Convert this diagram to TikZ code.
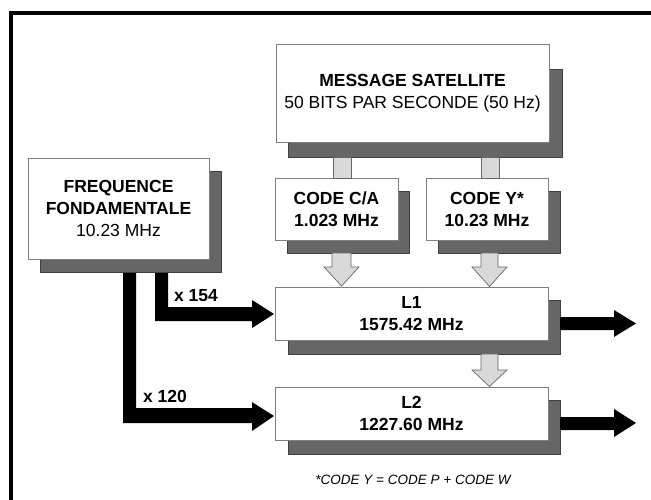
\documentclass[tikz,border=0pt]{standalone}
\usepackage{fontspec}
\setmainfont{Liberation Sans}
\definecolor{shadowgray}{HTML}{666666}
\definecolor{lightfill}{HTML}{D9D9D9}
\definecolor{edgegray}{HTML}{7F7F7F}
\newcommand\mainfs{\fontsize{17.5}{22}\selectfont}
\begin{document}
\begin{tikzpicture}[x=1pt,y=-1pt,
  box/.style={draw=edgegray, line width=0.8pt, fill=white, inner sep=0pt, outer sep=0pt, align=center, font=\mainfs},
  shadowbox/.style={fill=shadowgray, draw=black!75, line width=0.6pt},
  blkarrow/.style={fill=black},
  grayarrow/.style={fill=lightfill, draw=black!60, line width=0.7pt, line join=miter},
  lbl/.style={font=\bfseries\mainfs, inner sep=0pt},
  note/.style={font=\itshape\fontsize{13.5}{16}\selectfont, inner sep=0pt}]
\useasboundingbox (0,0) rectangle (651,500);
\clip (0,0) rectangle (651,500);
% frame (only left and top edges visible)
\draw[line width=4pt] (11,520) -- (11,13) -- (680,13);

% black block arrows from the fundamental frequency
\fill[blkarrow] (155,265) -- (168,265) -- (168,307) -- (252,307) -- (252,300) -- (274,314) -- (252,328) -- (252,321) -- (155,321) -- cycle;
\fill[blkarrow] (123,265) -- (136,265) -- (136,408) -- (252,408) -- (252,402) -- (274,416) -- (252,431) -- (252,423) -- (123,423) -- cycle;

% shadows
\draw[shadowbox] (40,171) rectangle (221,272);
\draw[shadowbox] (288,69) rectangle (562,157);
\draw[shadowbox] (287,191) rectangle (409,253);
\draw[shadowbox] (438,191) rectangle (560,253);
\draw[shadowbox] (288,300) rectangle (560,354);
\draw[shadowbox] (288,400) rectangle (560,454);

% boxes
\node[box, minimum width=181, minimum height=101] (freq) at (118.5,208.5)
  {\textbf{FREQUENCE}\\\textbf{FONDAMENTALE}\\10.23 MHz};
\node[box, minimum width=273, minimum height=98] (msg) at (412.5,93)
  {\textbf{MESSAGE SATELLITE}\\50 BITS PAR SECONDE (50 Hz)};
\node[box, minimum width=123, minimum height=62] (ca) at (336.5,209)
  {\textbf{CODE C/A}\\\textbf{1.023 MHz}};
\node[box, minimum width=122, minimum height=62] (cy) at (487,209)
  {\textbf{CODE Y*}\\\textbf{10.23 MHz}};
\node[box, minimum width=273, minimum height=53] (l1) at (411.5,313.5)
  {\textbf{L1}\\\textbf{1575.42 MHz}};
\node[box, minimum width=273, minimum height=53] (l2) at (411.5,413.5)
  {\textbf{L2}\\\textbf{1227.60 MHz}};

% light gray connectors
\draw[grayarrow] (333,157) rectangle (351,178);
\draw[grayarrow] (481,157) rectangle (499,178);
\draw[grayarrow] (332,253) -- (351,253) -- (351,267) -- (359,267) -- (341.5,286) -- (324,267) -- (332,267) -- cycle;
\draw[grayarrow] (481,253) -- (498,253) -- (498,267) -- (507,267) -- (489.5,286.5) -- (472,267) -- (481,267) -- cycle;
\draw[grayarrow] (481,354) -- (498,354) -- (498,370) -- (507,370) -- (489.5,386.5) -- (472,370) -- (481,370) -- cycle;

% output arrows
\fill[blkarrow] (560,317) -- (614,317) -- (614,310) -- (636,323.5) -- (614,337) -- (614,330) -- (560,330) -- cycle;
\fill[blkarrow] (560,417) -- (614,417) -- (614,409) -- (636,423) -- (614,437) -- (614,430) -- (560,430) -- cycle;

% labels
\node[lbl] (m154) at (196,296) {x 154};
\node[lbl] (m120) at (165,396) {x 120};
\node[note] (fn) at (413,480) {*CODE Y = CODE P + CODE W};
\end{tikzpicture}
\end{document}
